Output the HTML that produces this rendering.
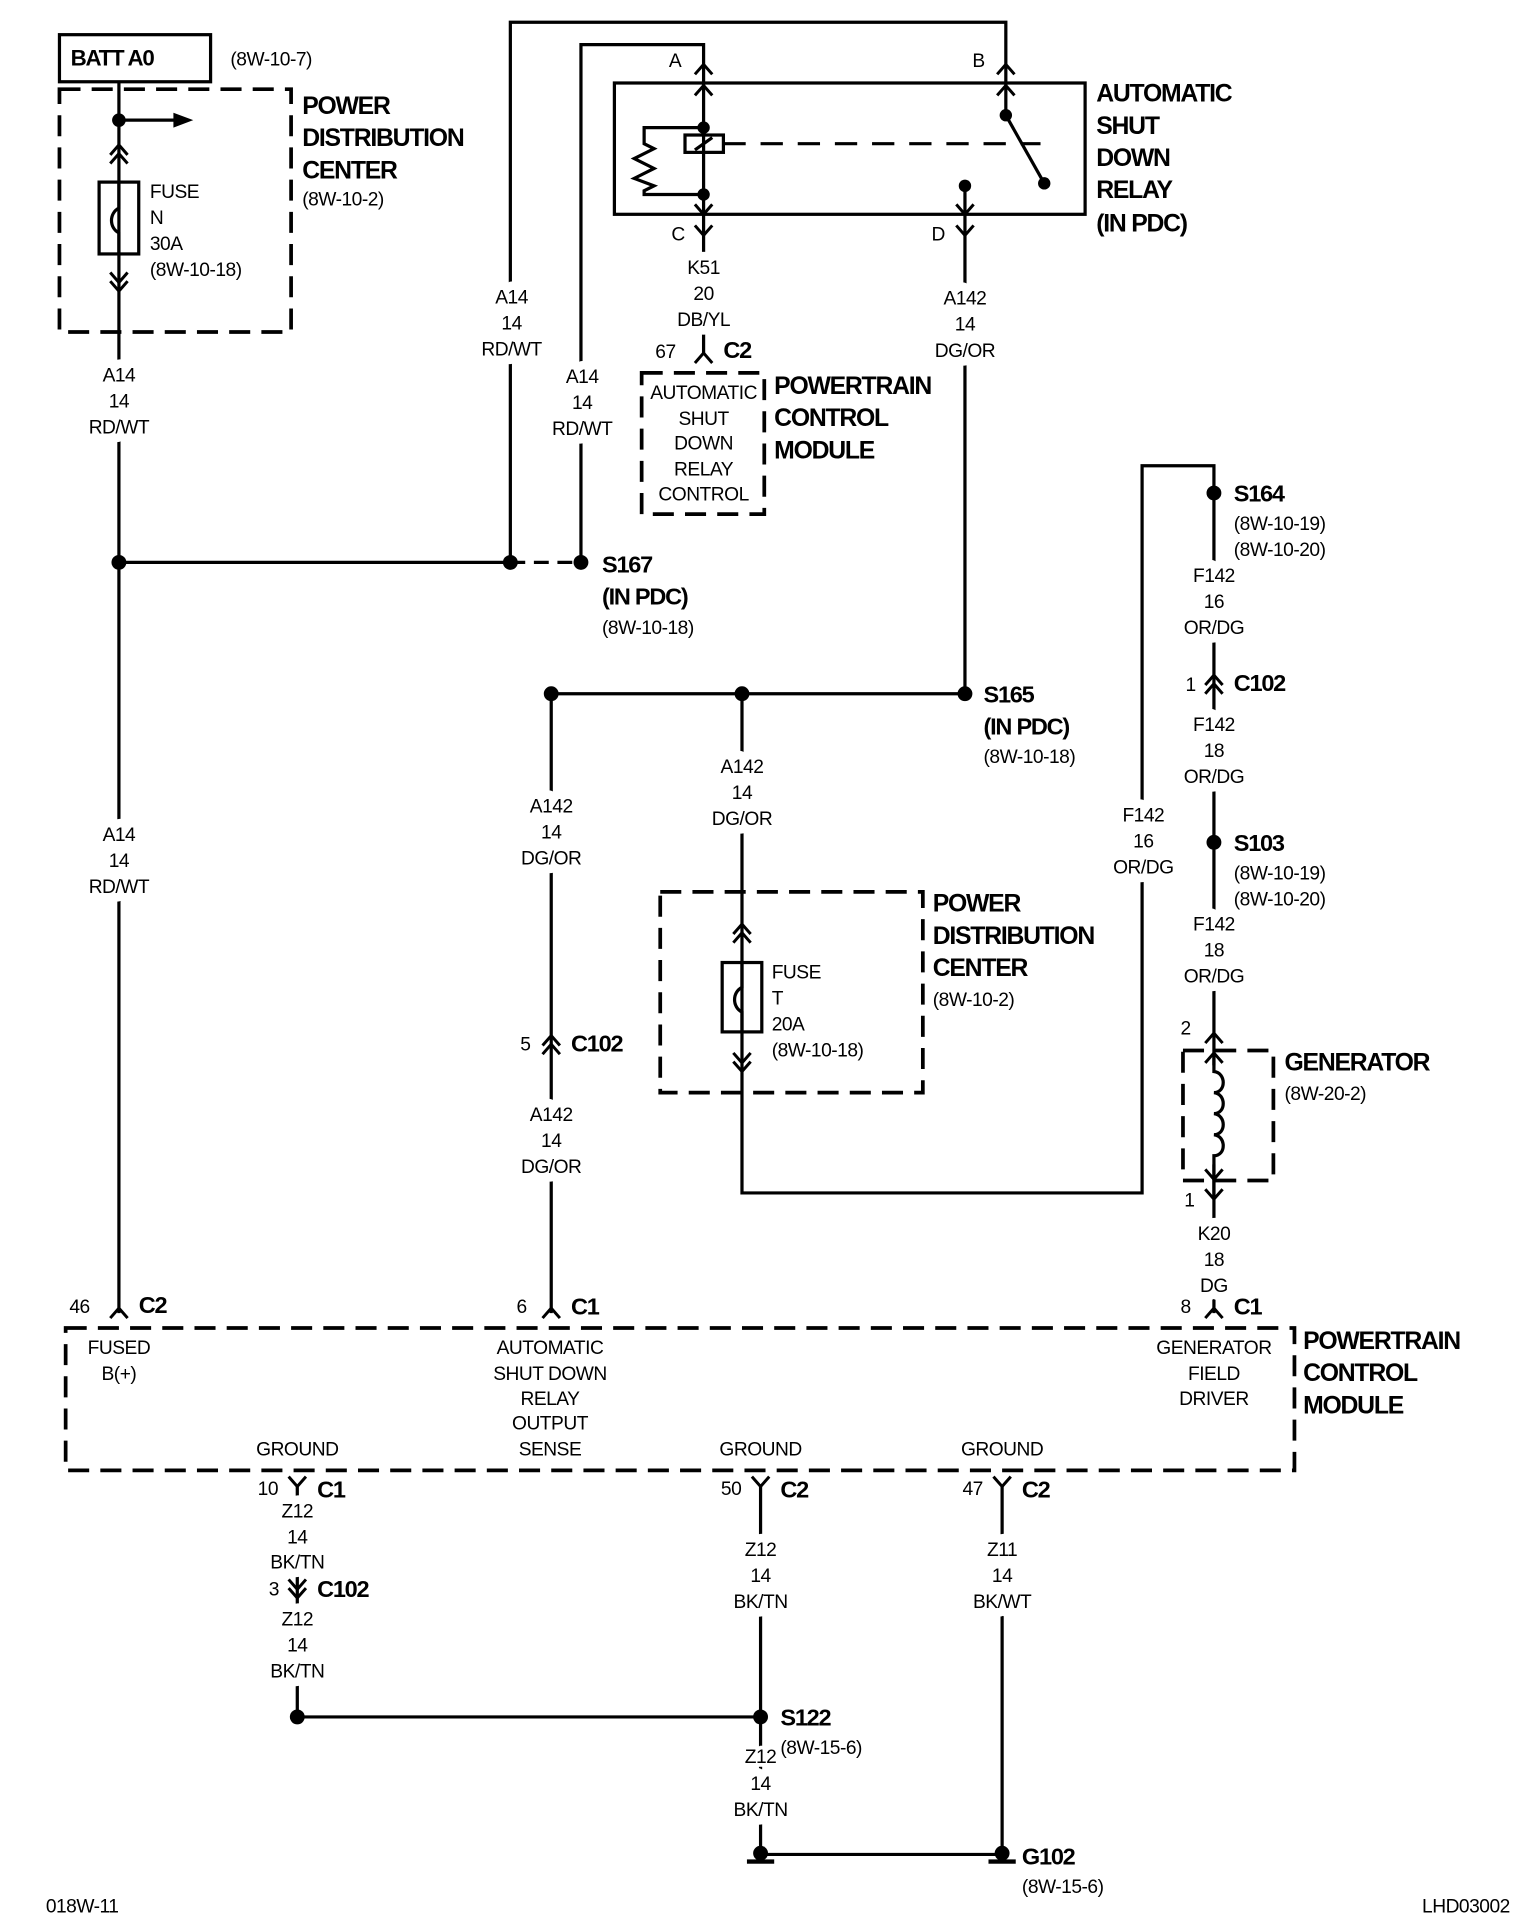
<!DOCTYPE html>
<html><head><meta charset="utf-8"><style>
html,body{margin:0;padding:0;background:#fff}
svg{display:block}
text{font-family:"Liberation Sans Narrow","Liberation Sans",sans-serif;fill:#000}
.l{font-size:15.5px;letter-spacing:-0.4px;text-anchor:middle;stroke:#fff;stroke-width:14px;paint-order:stroke;stroke-linejoin:round}
.s{font-size:15.5px;letter-spacing:-0.4px}
.b{font-size:20px;font-weight:bold;letter-spacing:-1px}
.w{stroke:#000;stroke-width:2.6;fill:none}
.d{stroke:#000;stroke-width:3;fill:none;stroke-dasharray:17 9}
</style></head><body>
<svg width="1536" height="1930" viewBox="0 0 1240 1558" preserveAspectRatio="none">
<defs>
<path id="dn" d="M-7,8 L0,0 L7,8" stroke="#000" stroke-width="2.4" fill="none"/>
<path id="up" d="M-7,-8 L0,0 L7,-8" stroke="#000" stroke-width="2.4" fill="none"/>
<g id="gnd"><circle cx="0" cy="-4" r="6" fill="#000"/><rect x="-11" y="1" width="22" height="3.5" fill="#000"/></g>
</defs>

<!-- BATT -->
<rect x="48" y="28" width="122" height="38" class="w" stroke-width="3"/>
<text x="57" y="53" class="b" style="font-size:18px">BATT A0</text>
<text x="186" y="53" class="s">(8W-10-7)</text>
<rect x="48" y="72" width="187" height="196" class="d"/>
<text x="244" y="92" class="b">POWER</text>
<text x="244" y="118" class="b">DISTRIBUTION</text>
<text x="244" y="144" class="b">CENTER</text>
<text x="244" y="166" class="s">(8W-10-2)</text>
<line x1="96" y1="66" x2="96" y2="1060" class="w"/>
<circle cx="96" cy="97" r="5.5"/>
<line x1="96" y1="97" x2="145" y2="97" class="w"/>
<path d="M140,91 L156,97 L140,103 Z"/>
<use href="#dn" x="96" y="117"/><use href="#dn" x="96" y="124"/>
<rect x="80" y="147" width="32" height="58" class="w" fill="#fff"/>
<path d="M96,147 L96,168 C88,172 88,184 96,188 L96,205" class="w"/>
<use href="#up" x="96" y="228"/><use href="#up" x="96" y="235"/>
<text x="121" y="160" class="s">FUSE</text><text x="121" y="181" class="s">N</text>
<text x="121" y="202" class="s">30A</text><text x="121" y="223" class="s">(8W-10-18)</text>
<text x="96" y="308" class="l">A14</text><text x="96" y="329" class="l">14</text><text x="96" y="350" class="l">RD/WT</text>
<text x="96" y="679" class="l">A14</text><text x="96" y="700" class="l">14</text><text x="96" y="721" class="l">RD/WT</text>

<!-- S167 -->
<circle cx="96" cy="454" r="6"/>
<line x1="96" y1="454" x2="412" y2="454" class="w"/>
<circle cx="412" cy="454" r="6"/>
<line x1="412" y1="454" x2="469" y2="454" class="w" stroke-dasharray="12 7"/>
<circle cx="469" cy="454" r="6"/>
<text x="486" y="462" class="b" style="font-size:19px">S167</text>
<text x="486" y="488" class="b" style="font-size:19px">(IN PDC)</text>
<text x="486" y="512" class="s">(8W-10-18)</text>
<polyline points="412,454 412,18 812,18 812,67" class="w"/>
<polyline points="469,454 469,36 568,36 568,67" class="w"/>
<text x="413" y="245" class="l">A14</text><text x="413" y="266" class="l">14</text><text x="413" y="287" class="l">RD/WT</text>
<text x="470" y="309" class="l">A14</text><text x="470" y="330" class="l">14</text><text x="470" y="351" class="l">RD/WT</text>

<!-- Relay -->
<rect x="496" y="67" width="380" height="106" class="w" stroke-width="3"/>
<use href="#dn" x="568" y="52"/><use href="#dn" x="568" y="69"/>
<use href="#dn" x="812" y="52"/><use href="#dn" x="812" y="69"/>
<text x="540" y="54" class="s">A</text><text x="785" y="54" class="s">B</text>
<line x1="568" y1="67" x2="568" y2="285" class="w"/>
<circle cx="568" cy="103" r="5"/><circle cx="568" cy="157" r="5"/>
<rect x="553" y="109" width="31" height="14" class="w" fill="#fff"/>
<line x1="561" y1="121" x2="575" y2="111" class="w"/>
<path d="M568,103 L520,103 L520,116 L528,120 L512,128 L528,136 L512,144 L528,150 L520,154 L520,157 L568,157" class="w" stroke-width="2"/>
<line x1="584" y1="116" x2="840" y2="116" class="w" stroke-dasharray="18 12"/>
<line x1="812" y1="67" x2="812" y2="93" class="w"/>
<circle cx="812" cy="93" r="5"/>
<line x1="812" y1="93" x2="843" y2="148" class="w"/>
<circle cx="843" cy="148" r="5"/>
<circle cx="779" cy="150" r="5"/>
<line x1="779" y1="150" x2="779" y2="560" class="w"/>
<use href="#up" x="568" y="173"/><use href="#up" x="779" y="173"/>
<use href="#up" x="568" y="190"/><use href="#up" x="779" y="190"/>
<text x="542" y="194" class="s">C</text><text x="752" y="194" class="s">D</text>
<text x="885" y="82" class="b">AUTOMATIC</text><text x="885" y="108" class="b">SHUT</text>
<text x="885" y="134" class="b">DOWN</text><text x="885" y="160" class="b">RELAY</text>
<text x="885" y="187" class="b">(IN PDC)</text>
<text x="568" y="221" class="l">K51</text><text x="568" y="242" class="l">20</text><text x="568" y="263" class="l">DB/YL</text>
<use href="#dn" x="568" y="285"/>
<text x="529" y="289" class="s">67</text><text x="584" y="289" class="b" style="font-size:19px">C2</text>
<rect x="518" y="301" width="99" height="114" class="d" stroke-width="2.6"/>
<text x="568" y="322" class="l" style="stroke-width:0">AUTOMATIC</text>
<text x="568" y="343" class="l" style="stroke-width:0">SHUT</text>
<text x="568" y="363" class="l" style="stroke-width:0">DOWN</text>
<text x="568" y="384" class="l" style="stroke-width:0">RELAY</text>
<text x="568" y="404" class="l" style="stroke-width:0">CONTROL</text>
<text x="625" y="318" class="b">POWERTRAIN</text><text x="625" y="344" class="b">CONTROL</text><text x="625" y="370" class="b">MODULE</text>
<text x="779" y="246" class="l">A142</text><text x="779" y="267" class="l">14</text><text x="779" y="288" class="l">DG/OR</text>

<!-- S165 -->
<line x1="445" y1="560" x2="779" y2="560" class="w"/>
<circle cx="445" cy="560" r="6"/><circle cx="599" cy="560" r="6"/><circle cx="779" cy="560" r="6"/>
<text x="794" y="567" class="b" style="font-size:19px">S165</text>
<text x="794" y="593" class="b" style="font-size:19px">(IN PDC)</text>
<text x="794" y="616" class="s">(8W-10-18)</text>
<line x1="445" y1="560" x2="445" y2="1060" class="w"/>
<text x="445" y="656" class="l">A142</text><text x="445" y="677" class="l">14</text><text x="445" y="698" class="l">DG/OR</text>
<use href="#dn" x="445" y="836"/><use href="#dn" x="445" y="843"/>
<text x="420" y="848" class="s">5</text><text x="461" y="849" class="b" style="font-size:19px">C102</text>
<text x="445" y="905" class="l">A142</text><text x="445" y="926" class="l">14</text><text x="445" y="947" class="l">DG/OR</text>

<!-- PDC fuse T -->
<rect x="533" y="720" width="212" height="162" class="d"/>
<polyline points="599,560 599,963 922,963 922,376 980,376 980,398" class="w"/>
<text x="599" y="624" class="l">A142</text><text x="599" y="645" class="l">14</text><text x="599" y="666" class="l">DG/OR</text>
<use href="#dn" x="599" y="746"/><use href="#dn" x="599" y="753"/>
<rect x="583" y="777" width="32" height="56" class="w" fill="#fff"/>
<path d="M599,777 L599,797 C591,801 591,813 599,817 L599,833" class="w"/>
<use href="#up" x="599" y="858"/><use href="#up" x="599" y="865"/>
<text x="623" y="790" class="s">FUSE</text><text x="623" y="811" class="s">T</text>
<text x="623" y="832" class="s">20A</text><text x="623" y="853" class="s">(8W-10-18)</text>
<text x="753" y="736" class="b">POWER</text><text x="753" y="762" class="b">DISTRIBUTION</text>
<text x="753" y="788" class="b">CENTER</text><text x="753" y="812" class="s">(8W-10-2)</text>
<text x="923" y="663" class="l">F142</text><text x="923" y="684" class="l">16</text><text x="923" y="705" class="l">OR/DG</text>

<!-- right column -->
<line x1="980" y1="398" x2="980" y2="1060" class="w"/>
<circle cx="980" cy="398" r="6"/>
<text x="996" y="405" class="b" style="font-size:19px">S164</text>
<text x="996" y="428" class="s">(8W-10-19)</text><text x="996" y="449" class="s">(8W-10-20)</text>
<text x="980" y="470" class="l">F142</text><text x="980" y="491" class="l">16</text><text x="980" y="512" class="l">OR/DG</text>
<use href="#dn" x="980" y="545"/><use href="#dn" x="980" y="552"/>
<text x="957" y="558" class="s">1</text><text x="996" y="558" class="b" style="font-size:19px">C102</text>
<text x="980" y="590" class="l">F142</text><text x="980" y="611" class="l">18</text><text x="980" y="632" class="l">OR/DG</text>
<circle cx="980" cy="680" r="6"/>
<text x="996" y="687" class="b" style="font-size:19px">S103</text>
<text x="996" y="710" class="s">(8W-10-19)</text><text x="996" y="731" class="s">(8W-10-20)</text>
<text x="980" y="751" class="l">F142</text><text x="980" y="772" class="l">18</text><text x="980" y="793" class="l">OR/DG</text>
<use href="#dn" x="980" y="834"/>
<text x="953" y="835" class="s">2</text>
<rect x="955" y="848" width="73" height="105" class="d"/>
<rect x="972" y="860" width="16" height="80" fill="#fff"/>
<use href="#dn" x="980" y="850"/>
<path d="M980,850 L980,865 C990,866 990,882 980,882 C990,883 990,899 980,899 C990,900 990,916 980,916 C990,917 990,933 980,933 L980,966" class="w" stroke-width="2"/>
<use href="#up" x="980" y="952"/><use href="#up" x="980" y="968"/>
<text x="1037" y="864" class="b">GENERATOR</text><text x="1037" y="888" class="s">(8W-20-2)</text>
<text x="956" y="974" class="s">1</text>
<text x="980" y="1001" class="l">K20</text><text x="980" y="1022" class="l">18</text><text x="980" y="1043" class="l">DG</text>
<use href="#dn" x="980" y="1056"/>
<text x="953" y="1060" class="s">8</text><text x="996" y="1061" class="b" style="font-size:19px">C1</text>

<!-- PCM -->
<rect x="53" y="1072" width="992" height="115" class="d"/>
<use href="#dn" x="96" y="1056"/>
<text x="56" y="1060" class="s">46</text><text x="112" y="1060" class="b" style="font-size:19px">C2</text>
<use href="#dn" x="445" y="1056"/>
<text x="417" y="1060" class="s">6</text><text x="461" y="1061" class="b" style="font-size:19px">C1</text>
<text x="96" y="1093" class="s" text-anchor="middle">FUSED</text><text x="96" y="1114" class="s" text-anchor="middle">B(+)</text>
<text x="444" y="1093" class="s" text-anchor="middle">AUTOMATIC</text><text x="444" y="1114" class="s" text-anchor="middle">SHUT DOWN</text>
<text x="444" y="1134" class="s" text-anchor="middle">RELAY</text><text x="444" y="1154" class="s" text-anchor="middle">OUTPUT</text>
<text x="444" y="1175" class="s" text-anchor="middle">SENSE</text>
<text x="980" y="1093" class="s" text-anchor="middle">GENERATOR</text><text x="980" y="1114" class="s" text-anchor="middle">FIELD</text>
<text x="980" y="1134" class="s" text-anchor="middle">DRIVER</text>
<text x="240" y="1175" class="s" text-anchor="middle">GROUND</text>
<text x="614" y="1175" class="s" text-anchor="middle">GROUND</text>
<text x="809" y="1175" class="s" text-anchor="middle">GROUND</text>
<text x="1052" y="1089" class="b">POWERTRAIN</text><text x="1052" y="1115" class="b">CONTROL</text><text x="1052" y="1141" class="b">MODULE</text>

<!-- grounds -->
<polyline points="240,1200 240,1386 614,1386" class="w"/>
<line x1="614" y1="1200" x2="614" y2="1496" class="w"/>
<line x1="809" y1="1200" x2="809" y2="1496" class="w"/>
<use href="#up" x="240" y="1200"/><use href="#up" x="614" y="1200"/><use href="#up" x="809" y="1200"/>
<text x="208" y="1207" class="s">10</text><text x="256" y="1209" class="b" style="font-size:19px">C1</text>
<text x="582" y="1207" class="s">50</text><text x="630" y="1209" class="b" style="font-size:19px">C2</text>
<text x="777" y="1207" class="s">47</text><text x="825" y="1209" class="b" style="font-size:19px">C2</text>
<text x="240" y="1225" class="l">Z12</text><text x="240" y="1246" class="l">14</text><text x="240" y="1266" class="l">BK/TN</text>
<use href="#up" x="240" y="1283"/><use href="#up" x="240" y="1290"/>
<text x="217" y="1288" class="s">3</text><text x="256" y="1289" class="b" style="font-size:19px">C102</text>
<text x="240" y="1312" class="l">Z12</text><text x="240" y="1333" class="l">14</text><text x="240" y="1354" class="l">BK/TN</text>
<text x="614" y="1256" class="l">Z12</text><text x="614" y="1277" class="l">14</text><text x="614" y="1298" class="l">BK/TN</text>
<text x="809" y="1256" class="l">Z11</text><text x="809" y="1277" class="l">14</text><text x="809" y="1298" class="l">BK/WT</text>
<circle cx="240" cy="1386" r="6"/><circle cx="614" cy="1386" r="6"/>
<text x="614" y="1423" class="l" style="stroke-width:6px">Z12</text><text x="614" y="1445" class="l">14</text><text x="614" y="1466" class="l">BK/TN</text>
<text x="630" y="1393" class="b" style="font-size:19px">S122</text>
<text x="630" y="1416" class="s">(8W-15-6)</text>
<line x1="614" y1="1497" x2="809" y2="1497" class="w"/>
<use href="#gnd" x="614" y="1500"/><use href="#gnd" x="809" y="1500"/>
<text x="825" y="1505" class="b" style="font-size:19px">G102</text>
<text x="825" y="1528" class="s">(8W-15-6)</text>

<text x="37" y="1544" class="s">018W-11</text>
<text x="1148" y="1544" class="s">LHD03002</text>
</svg>
</body></html>
